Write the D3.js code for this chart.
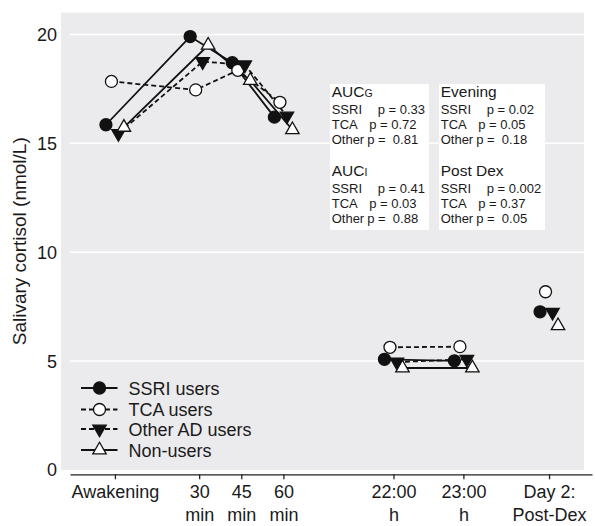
<!DOCTYPE html>
<html>
<head>
<meta charset="utf-8">
<script src="https://cdn.jsdelivr.net/npm/d3@7"></script>
<style>
  body { margin: 0; background: #fff; }
  text { font-family: 'Liberation Sans', Arial, sans-serif; fill: #1a1a1a; }
</style>
</head>
<body>
<div id="canvas"></div>
<script>
// x positions of the sampling moments (minutes after awakening for the morning part)
const timePoints = [0, 30, 45, 60, 99.2, 124.1, 154.6]
const tickLabels = ['Awakening', '30\nmin', '45\nmin', '60\nmin', '22:00\nh', '23:00\nh', 'Day 2:\nPost-Dex']
const yTicks = [0, 5, 10, 15, 20]

// salivary cortisol (nmol/L)
const ssriUsers = [15.85, 19.9, 18.7, 16.2, 5.08, 5.01, 7.26]
const tcaUsers = [17.84, 17.45, 18.35, 16.88, 5.63, 5.66, 8.18]
const otherUsers = [15.45, 18.75, 18.6, 16.25, 4.95, 5.08, 7.24]
const nonUsers = [15.73, 19.5, 17.88, 15.62, 4.68, 4.68, 6.62]

// which samples are joined by a line
const segments = [[0, 1, 2, 3], [4, 5], [6]]

const legendNames = ['SSRI users', 'TCA users', 'Other AD users', 'Non-users']

const boxTitles = [['AUC', 'G'], ['AUC', 'I'], ['Evening', ''], ['Post Dex', '']]
const boxGroups = ['SSRI', 'TCA', 'Other']
const boxPValues = [
  ['0.33', '0.72', ' 0.81'],
  ['0.41', '0.03', ' 0.88'],
  ['0.02', '0.05', ' 0.18'],
  ['0.002', '0.37', ' 0.05'],
]

const series = [
  { name: legendNames[0], values: ssriUsers, dashed: false, shape: 'circle', fill: '#111', dx: -9 },
  { name: legendNames[1], values: tcaUsers, dashed: true, shape: 'circle', fill: '#fff', dx: -3.5 },
  { name: legendNames[2], values: otherUsers, dashed: true, shape: 'down', fill: '#111', dx: 3.5 },
  { name: legendNames[3], values: nonUsers, dashed: false, shape: 'up', fill: '#fff', dx: 9 },
]

const width = 595
const height = 526

const svg = d3.select('#canvas').append('svg')
  .attr('width', width)
  .attr('height', height)

const x = d3.scaleLinear().domain([-16, 169.9]).range([70, 592])
const y = d3.scaleLinear().domain([0, 21]).range([469.9, 12.6])

// panel
svg.append('rect')
  .attr('x', 61).attr('y', y(21))
  .attr('width', 584 - 61).attr('height', y(0) - y(21))
  .attr('fill', '#ebebed')

svg.append('g').selectAll('line')
  .data(yTicks.filter((d) => d > 0))
  .enter().append('line')
  .attr('x1', 70).attr('x2', 584)
  .attr('y1', (d) => y(d)).attr('y2', (d) => y(d))
  .attr('stroke', '#fff').attr('stroke-width', 1.5)

// y tick labels (no axis line)
svg.append('g').selectAll('text')
  .data(yTicks)
  .enter().append('text')
  .attr('x', 57)
  .attr('y', (d) => y(d) + 6.5)
  .attr('text-anchor', 'end')
  .style('font-size', '18px')
  .text((d) => d)

svg.append('text')
  .attr('transform', `translate(26,${y(10.5)}) rotate(-90)`)
  .attr('text-anchor', 'middle')
  .style('font-size', '19px')
  .text('Salivary cortisol (nmol/L)')

// x axis
const xAxis = svg.append('g')
  .attr('transform', 'translate(0,474.3)')
  .call(d3.axisBottom(x).tickValues(timePoints).tickSize(5).tickSizeOuter(0)
    .tickFormat((d, i) => tickLabels[i]))
xAxis.select('.domain').attr('stroke', '#222').attr('stroke-width', 1.3)
xAxis.selectAll('.tick line').attr('stroke', '#222').attr('stroke-width', 1.3)
xAxis.selectAll('.tick text').each(function (d, i) {
  const t = d3.select(this)
  t.text(null).attr('y', 0).attr('dy', null)
    .style('font-size', '18px').attr('fill', '#1a1a1a')
  tickLabels[i].split('\n').forEach((s, k) => {
    t.append('tspan').attr('x', 0).attr('y', 24 + k * 23).text(s)
  })
})

// annotation boxes
const boxX = [330, 439]
const boxW = [99, 106]
boxX.forEach((bx, i) => {
  svg.append('rect')
    .attr('x', bx).attr('y', 84).attr('width', boxW[i]).attr('height', 146)
    .attr('fill', '#fff')
})
const pOffset = [46, 37.5, 35.5]
boxTitles.forEach((tt, b) => {
  const tx = boxX[Math.floor(b / 2)] + 1.7
  const ty = b % 2 === 0 ? 96.7 : 176
  const title = svg.append('text').attr('x', tx).attr('y', ty).style('font-size', '15.5px')
  title.append('tspan').text(tt[0])
  if (tt[1]) title.append('tspan').style('font-size', '10.5px').text(tt[1])
  boxGroups.forEach((g, r) => {
    const row = svg.append('text')
      .attr('y', ty + 16.8 + r * 15)
      .style('font-size', '13px')
      .style('white-space', 'pre')
    row.append('tspan').attr('x', tx).text(g)
    row.append('tspan').attr('x', tx + pOffset[r]).text('p = ' + boxPValues[b][r])
  })
})

// markers
function marker(sel, shape, fill) {
  if (shape === 'circle') {
    sel.append('circle').attr('r', 6)
      .attr('fill', fill).attr('stroke', '#111').attr('stroke-width', 1.3)
  } else {
    sel.append('path')
      .attr('d', d3.symbol(d3.symbolTriangle, 78)())
      .attr('transform', shape === 'down' ? 'rotate(180)' : null)
      .attr('fill', fill).attr('stroke', '#111').attr('stroke-width', 1.3)
  }
}

const line = d3.line()

series.forEach((s) => {
  segments.forEach((seg) => {
    if (seg.length < 2) return
    svg.append('path')
      .attr('d', line(seg.map((i) => [x(timePoints[i]) + s.dx, y(s.values[i])])))
      .attr('fill', 'none')
      .attr('stroke', '#111')
      .attr('stroke-width', 1.8)
      .attr('stroke-dasharray', s.dashed ? '5,3' : null)
  })
})

series.forEach((s) => {
  svg.append('g').selectAll('g')
    .data(s.values)
    .enter().append('g')
    .attr('transform', (d, i) => `translate(${x(timePoints[i]) + s.dx},${y(d)})`)
    .each(function () { marker(d3.select(this), s.shape, s.fill) })
})

// legend
const legend = svg.append('g').attr('transform', 'translate(81,388)')
series.forEach((s, i) => {
  const row = legend.append('g').attr('transform', `translate(0,${[0, 21.5, 41, 62][i]})`)
  row.append('line')
    .attr('x1', 0).attr('x2', 36.5)
    .attr('stroke', '#111').attr('stroke-width', 1.8)
    .attr('stroke-dasharray', s.dashed ? '5,3' : null)
  marker(row.append('g').attr('transform', 'translate(18.5,0)'), s.shape, s.fill)
  row.append('text').attr('x', 47.5).attr('y', 6.5)
    .style('font-size', '18px')
    .text(s.name)
})
</script>
</body>
</html>
